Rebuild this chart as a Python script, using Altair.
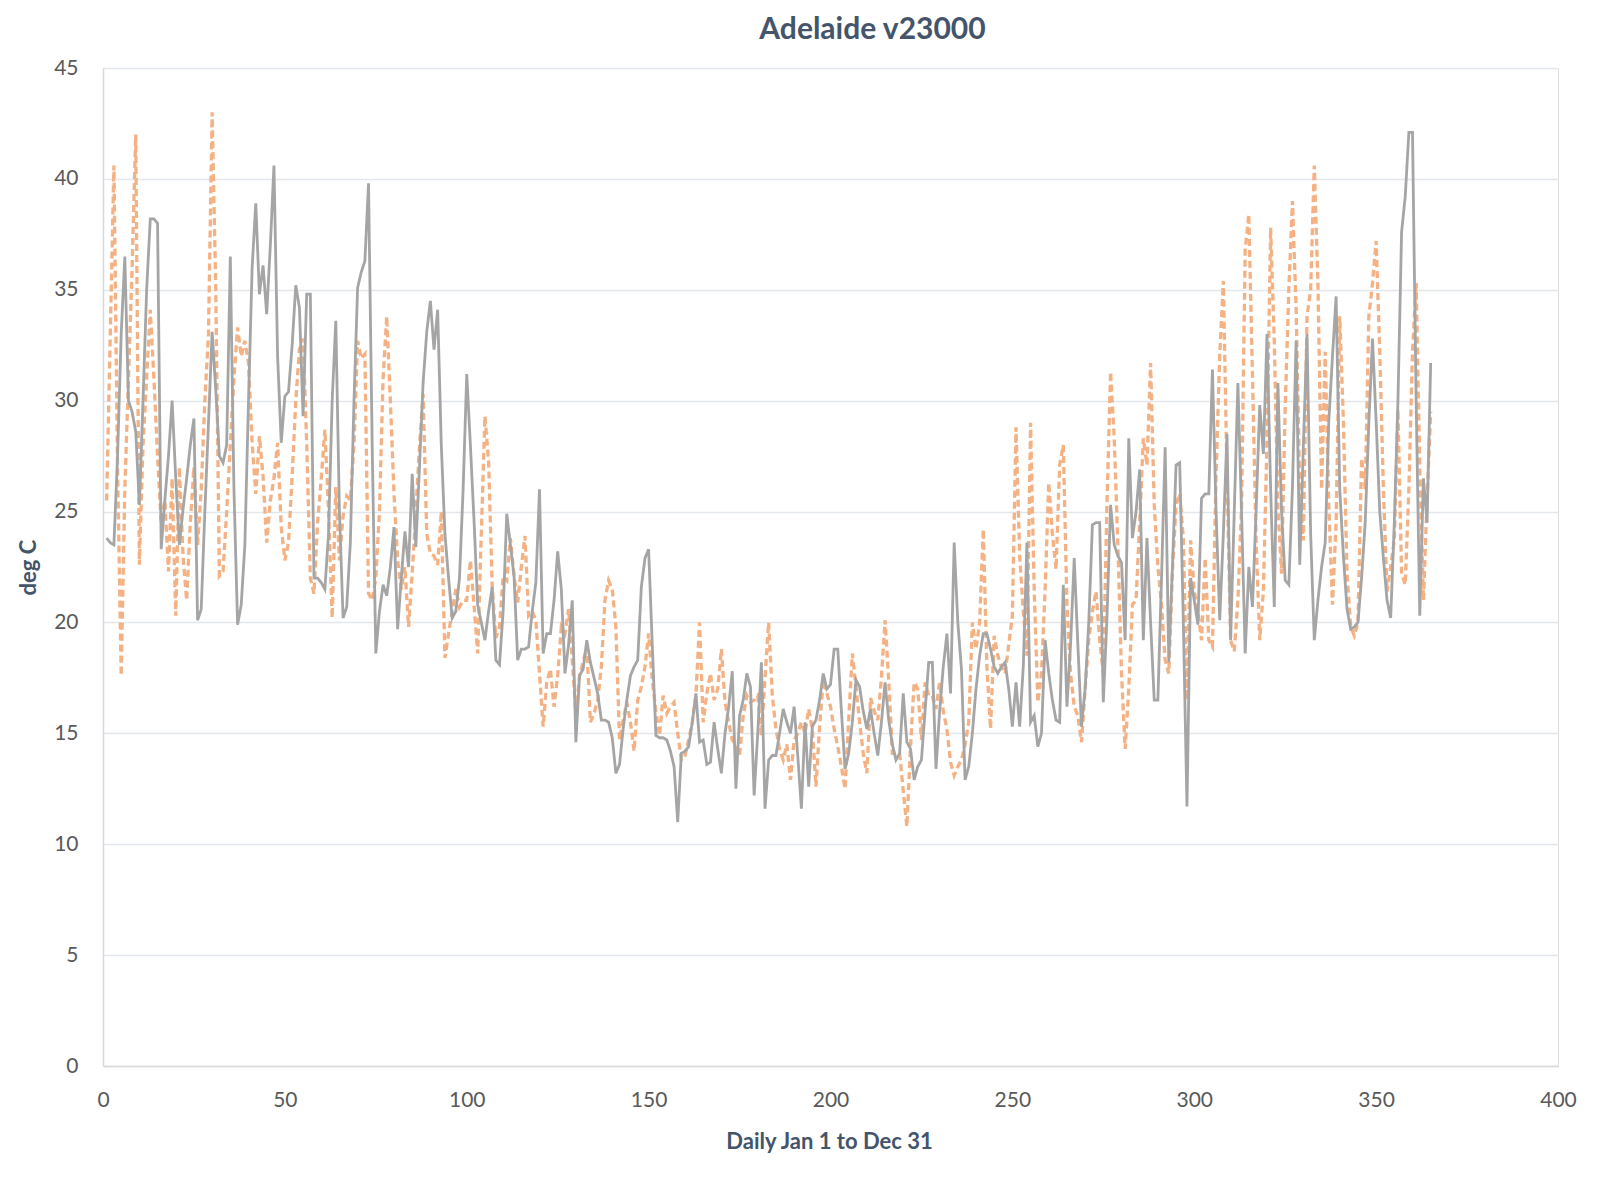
import altair as alt
import pandas as pd

# Day of year (x) for both series
days = list(range(1, 366))

# Grey solid series (deg C)
grey_vals = [
    23.8, 23.6, 23.5, 27.5, 33, 36.5, 30, 29.5, 28.6, 25.3,
    30, 35, 38.2, 38.2, 38, 23.3, 25.5, 27.5, 30, 26.5,
    23.5, 25.1, 26.5, 28, 29.2, 20.1, 20.6, 25, 29, 33.1,
    30.5, 27.5, 27.2, 28, 36.5, 26, 19.9, 20.8, 23.5, 30,
    36, 38.9, 34.8, 36.1, 33.9, 37, 40.6, 32, 28.1, 30.2,
    30.4, 32.5, 35.2, 34.2, 29.3, 34.8, 34.8, 22, 22, 21.8,
    21.5, 24, 30, 33.6, 25, 20.2, 20.7, 23.6, 30, 35.1,
    35.8, 36.3, 39.8, 28, 18.6, 20.5, 21.7, 21.2, 22.5, 24.3,
    19.7, 22, 24.1, 22.5, 26.7, 23.4, 27, 30.8, 33.1, 34.5,
    32.3, 34.1, 28, 24, 22, 20.2, 20.5, 22, 26, 31.2,
    28, 24.6, 20.8, 20, 19.2, 20.5, 21.6, 18.3, 18.1, 20.5,
    24.9, 23.5, 22.1, 18.3, 18.8, 18.8, 18.9, 20.5, 21.8, 26,
    18.6, 19.5, 19.5, 21, 23.2, 21.5, 17.7, 19, 21, 14.6,
    17.6, 17.9, 19.2, 18.2, 17.5, 16.8, 15.6, 15.6, 15.5, 14.8,
    13.2, 13.6, 15.2, 16.5, 17.6, 18, 18.3, 21.6, 22.9, 23.3,
    19, 14.9, 14.8, 14.8, 14.7, 14.2, 13.5, 11, 14.1, 14.2,
    14.4, 15.5, 16.8, 14.6, 14.7, 13.6, 13.7, 15.5, 14.3, 13.2,
    15, 16.2, 17.8, 12.5, 15.8, 16.5, 17.7, 17.1, 12.2, 15,
    18.2, 11.6, 13.8, 14, 14, 15, 16.1, 15.5, 15, 16.2,
    14, 11.6, 15.5, 12.6, 15.3, 15.6, 16.5, 17.7, 17, 17.2,
    18.8, 18.8, 16, 13.4, 14.1, 15.5, 17.4, 17.1, 16, 15.2,
    16.1, 15, 14, 15.5, 17.3, 15.6, 14.5, 13.8, 14.1, 16.8,
    14.6, 14.3, 12.9, 13.5, 13.8, 16, 18.2, 18.2, 13.4, 16,
    18, 19.5, 16.8, 23.6, 20, 17.9, 12.9, 13.5, 15, 17,
    18.5, 19.5, 19.5, 18.8, 18, 17.7, 18, 18.2, 17, 15.3,
    17.3, 15.3, 18, 23.6, 15.5, 15.8, 14.4, 15, 19.2, 17.7,
    16.5, 15.6, 15.5, 21.7, 16.2, 19, 22.9, 19, 15.3, 17,
    20, 24.4, 24.5, 24.5, 16.4, 20.2, 25.3, 23.5, 23, 22.7,
    19.2, 28.3, 23.8, 25, 26.9, 19.2, 23.8, 20, 16.5, 16.5,
    22, 27.9, 18.2, 22.5, 27.1, 27.2, 20, 11.7, 22, 21,
    19.9, 25.6, 25.8, 25.8, 31.4, 25, 20.1, 24, 28.5, 19.2,
    25, 30.8, 25, 18.6, 22.5, 20.7, 25, 29.8, 27.6, 33,
    26, 20.7, 30.8, 25, 21.9, 21.7, 26.1, 32.7, 22.6, 28,
    33, 24, 19.2, 21, 22.5, 23.6, 29.1, 32, 34.7, 26,
    23, 20.6, 19.7, 19.8, 20, 22, 24.5, 29, 32.8, 29.1,
    25, 22.9, 21, 20.2, 24.5, 30, 37.6, 39.2, 42.1, 42.1,
    30, 20.3, 26.5, 24.5, 31.7,
]

# Orange dashed series (deg C)
orange_vals = [
    25.5, 33, 40.6, 27, 17.6, 26, 31, 36, 42, 22.6,
    28, 31, 34.1, 31, 27.5, 24.5, 25.5, 22.3, 26.5, 20.3,
    27, 23, 21, 24.5, 27, 23.5, 26, 30, 33, 43,
    35, 22.1, 22.3, 25, 28, 31, 33.3, 32, 32.7, 31.7,
    28.1, 25.8, 28.4, 26.6, 23.6, 25.5, 26.5, 28.1, 24.3, 22.8,
    23.6, 26.6, 30, 32.3, 32.8, 28.1, 22, 21.3, 24.5, 26.5,
    28.7, 25, 20.2, 26.1, 22.8, 24.8, 25.7, 25.5, 28, 32.7,
    31.9, 32.1, 21.3, 21, 22, 25, 31, 33.8, 30, 25.8,
    22.8, 21.5, 22.5, 19.8, 22.2, 25, 27.9, 30.3, 24, 23.1,
    23, 22.6, 25, 18.4, 19.5, 20.5, 21.5, 20.7, 21, 21,
    22.8, 20.8, 18.6, 24, 29.3, 27.3, 21.6, 19.3, 19.8, 22.1,
    21.9, 23.8, 22.1, 20.9, 22.5, 23.9, 20.3, 20.5, 20.1, 17.7,
    15.3, 17.3, 17.9, 16.2, 17.6, 19.8, 19.5, 20.6, 18.3, 15.9,
    17.6, 18.2, 18.9, 15.5, 15.9, 16.5, 18, 21, 21.9, 21.5,
    19.8, 14.7, 15.6, 16.4, 15.5, 14.2, 16.5, 17.1, 18, 19.5,
    17.4, 16, 14.9, 16.7, 15.9, 16.2, 16.4, 15, 13.8, 14,
    14.7, 15.5, 16.7, 20, 15.5, 16.8, 17.7, 16.5, 17, 18.8,
    16.4, 15.5, 14.7, 14.5, 14, 15.8, 16.7, 16.4, 16.5, 16.7,
    14.9, 17.5, 20, 16.7, 15.2, 14.3, 13.8, 14.5, 12.9, 14.7,
    15, 15.5, 15, 16.1, 15.2, 12.6, 15.3, 17.4, 16.8, 16.2,
    15.2, 14.4, 13.5, 12.5, 15.6, 18.6, 17.1, 15.5, 14.1, 13.2,
    16.6, 16, 15.6, 17.5, 20.1, 17.4, 14.1, 14.1, 14.1, 12.4,
    10.8, 14.4, 17.3, 17, 14.7, 17.3, 16.7, 16.7, 16.1, 17.3,
    16, 15.2, 13.7, 13.1, 13.5, 13.8, 14.5, 15.5, 20, 18.8,
    20, 24.2, 18, 15.2, 19.4, 18.5, 18, 17.7, 19, 20.3,
    28.8, 23, 20.5, 18.5, 29, 21.5, 16.4, 17.7, 21.5, 26.3,
    24, 22.4, 27.1, 28, 20.8, 17.7, 16.2, 15.8, 14.6, 17,
    19.2, 20.5, 21.4, 19.2, 17.7, 25.3, 31.3, 28.3, 23.5, 17.7,
    14.3, 17, 20.8, 21, 24.5, 28.3, 27.1, 31.7, 25.3, 22.5,
    20.8, 18.3, 17.7, 22.3, 25.3, 25.8, 23.8, 16.5, 23.7, 21.4,
    20.5, 19.2, 22.9, 19.2, 18.9, 26.7, 32, 35.4, 26.7, 19.2,
    18.7, 21, 25.2, 36.8, 38.4, 31.2, 23.7, 19.2, 21.4, 28.2,
    37.8, 32.7, 25.2, 22.2, 29.7, 35, 39, 34.2, 26, 23.7,
    33.8, 35, 40.6, 35.3, 26, 32.2, 25.3, 20.8, 24.5, 33.8,
    29.1, 22.2, 19.8, 19.4, 20, 27.4, 26, 33.8, 35.3, 37.2,
    32.2, 26, 21.4, 22.5, 23.7, 29.6, 22.2, 21.7, 26, 32.2,
    35.3, 27, 21, 25.5, 29.5,
]

x_ticks = [0, 50, 100, 150, 200, 250, 300, 350, 400]
y_ticks = [0, 5, 10, 15, 20, 25, 30, 35, 40, 45]

grey_df = pd.DataFrame({"day": days, "temp": grey_vals})
orange_df = pd.DataFrame({"day": days, "temp": orange_vals})

FONT = "Lato"
TITLE_COLOR = "#44546A"
LABEL_COLOR = "#595959"

x_enc = alt.X(
    "day:Q",
    scale=alt.Scale(domain=[0, 400], nice=False, zero=False),
    axis=alt.Axis(
        values=x_ticks,
        title="Daily Jan 1 to Dec 31",
        grid=False,
        ticks=False,
        domain=True,
        domainColor="#D9D9D9",
        domainWidth=1.5,
        labelFlush=False,
        labelFont=FONT,
        labelFontSize=21,
        labelColor=LABEL_COLOR,
        labelPadding=23,
        titleFont=FONT,
        titleFontSize=22,
        titleFontWeight="bold",
        titleColor=TITLE_COLOR,
        titleX=726,
        titleY=75,
        titleBaseline="middle",
    ),
)
y_enc = alt.Y(
    "temp:Q",
    scale=alt.Scale(domain=[0, 45], nice=False),
    axis=alt.Axis(
        values=y_ticks,
        title="deg C",
        grid=True,
        gridColor="#E3E6EB",
        gridWidth=1.5,
        ticks=False,
        domain=True,
        domainColor="#D5DAE2",
        domainWidth=1.5,
        labelFont=FONT,
        labelFontSize=21,
        labelColor=LABEL_COLOR,
        labelPadding=25,
        titleFont=FONT,
        titleFontSize=22,
        titleFontWeight="bold",
        titleColor=TITLE_COLOR,
        titleX=-75,
        titleY=499,
        titleBaseline="middle",
        titleAngle=270,
    ),
)

orange_line = alt.Chart(orange_df).mark_line(
    color="#F4B183", strokeWidth=3.3, strokeDash=[7, 4]
).encode(x=x_enc, y=y_enc)

grey_line = alt.Chart(grey_df).mark_line(
    color="#A5A5A5", strokeWidth=2.8
).encode(x=x_enc, y=y_enc)

chart = (
    alt.layer(orange_line, grey_line)
    .properties(
        width=1455,
        height=998,
        autosize=alt.AutoSizeParams(type="none"),
        padding={"left": 95, "top": 60, "right": 30, "bottom": 100},
        title=alt.TitleParams(
            "Adelaide v23000",
            anchor="middle",
            dx=42,
            offset=12,
            font=FONT,
            fontSize=30,
            fontWeight="bold",
            color=TITLE_COLOR,
        ),
    )
    .configure_view(stroke="#D9D9D9", strokeWidth=1.5)
    .configure(background="white")
)

chart.save("out.html", embed_options={"renderer": "svg", "actions": False})
